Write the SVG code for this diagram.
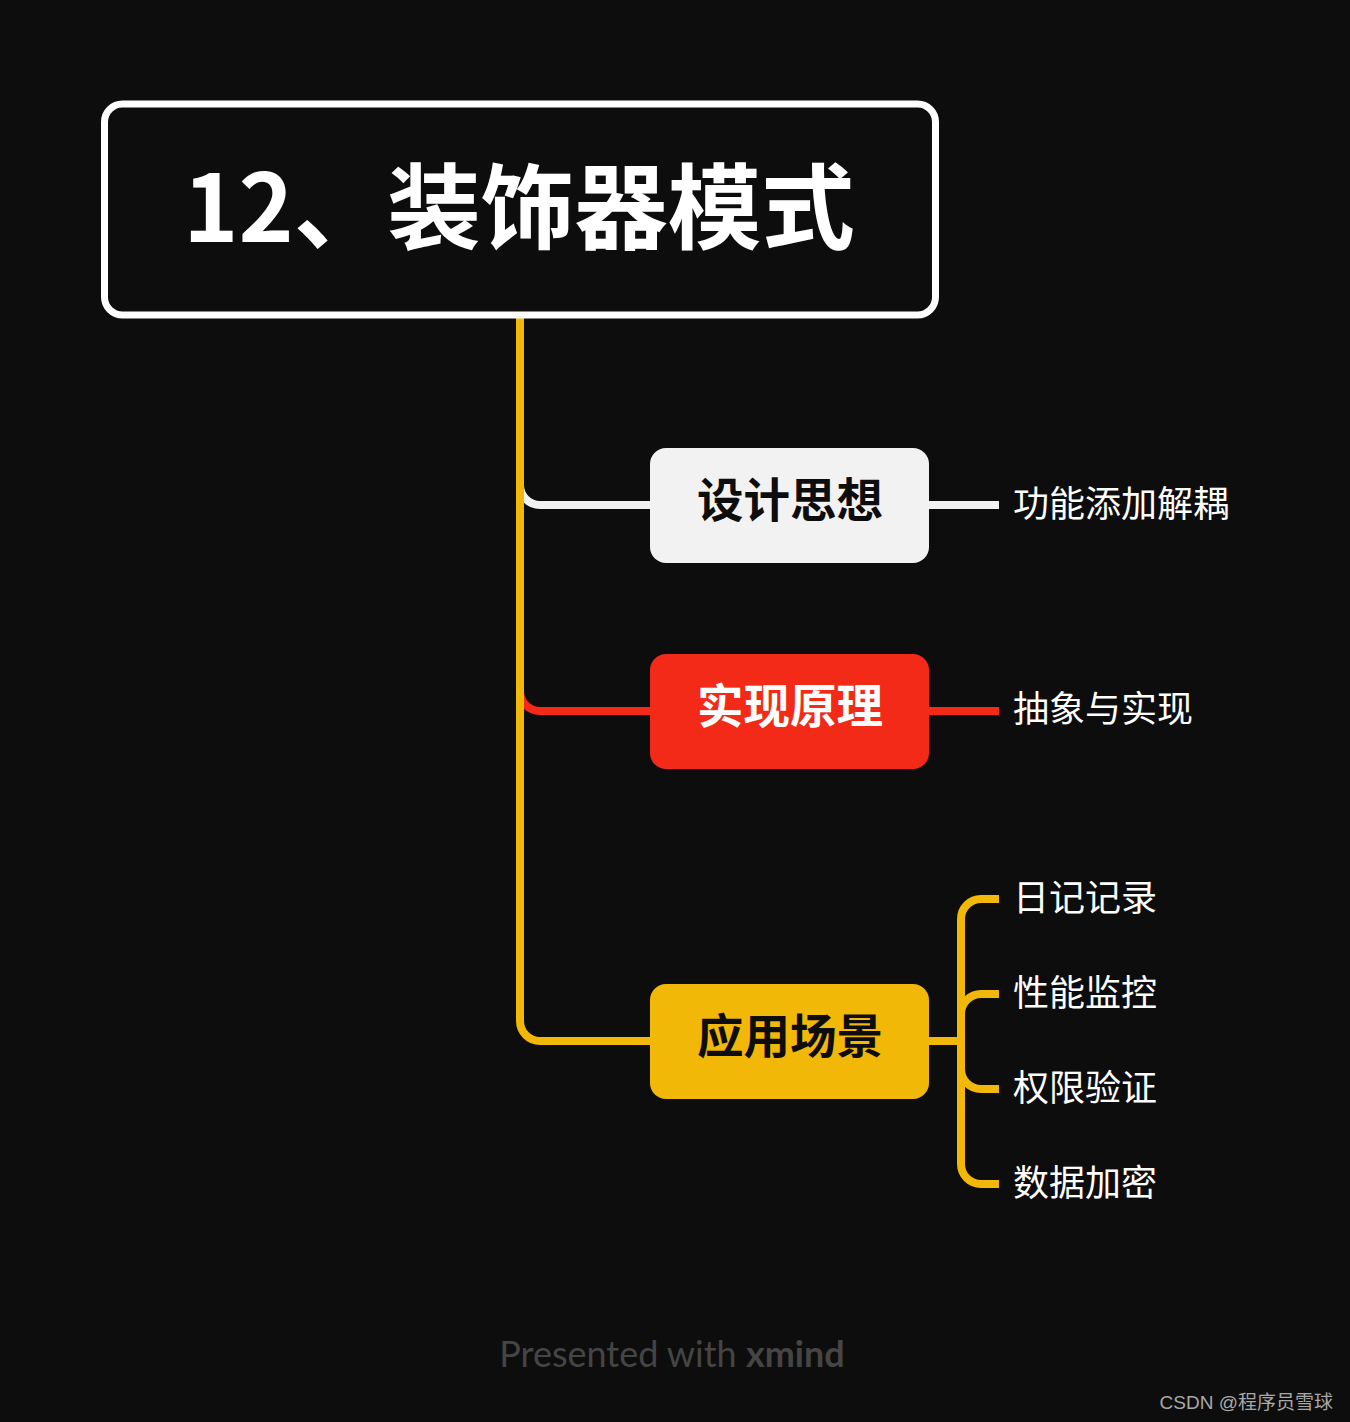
<svg xmlns="http://www.w3.org/2000/svg" width="1350" height="1422" viewBox="0 0 1350 1422">
<style>
.cjk{font-family:"Noto Sans CJK SC","Noto Sans",sans-serif}
.node{font-weight:bold;font-size:46.5px;text-anchor:middle}
.leaf{font-size:36px;fill:#ffffff}
.ln{fill:none;stroke-width:8}
</style>
<rect width="1350" height="1422" fill="#0d0d0d"/>
<g id="connectors">
<path class="ln" stroke="#f2f2f2" d="M520 485 A20 20 0 0 0 540 505 L652 505"/>
<path class="ln" stroke="#f22a17" d="M520 691 A20 20 0 0 0 540 711 L652 711"/>
<path class="ln" stroke="#f2b807" d="M520 318 L520 1021 A20 20 0 0 0 540 1041 L652 1041"/>
<path class="ln" stroke="#f2f2f2" d="M927 505 L999 505"/>
<path class="ln" stroke="#f22a17" d="M927 711 L999 711"/>
<path class="ln" stroke="#f2b807" d="M927 1041 L961 1041"/>
<path class="ln" stroke="#f2b807" d="M999 899 L981 899 A20 20 0 0 0 961 919 L961 1164 A20 20 0 0 0 981 1184 L999 1184"/>
<path class="ln" stroke="#f2b807" d="M961 1014 A20 20 0 0 1 981 994 L999 994"/>
<path class="ln" stroke="#f2b807" d="M961 1069 A20 20 0 0 0 981 1089 L999 1089"/>
</g>
<g id="root">
<rect x="104.5" y="104" width="831" height="211" rx="18" fill="#0d0d0d" stroke="#ffffff" stroke-width="7"/>
<text class="cjk" x="519" y="242" font-size="93.5" font-weight="bold" fill="#ffffff" text-anchor="middle">12、装饰器模式</text>
</g>
<g id="n-design">
<rect x="650" y="448" width="279" height="115" rx="16" fill="#f2f2f2"/>
<text class="cjk node" x="790" y="517" fill="#0d0d0d">设计思想</text>
</g>
<g id="n-impl">
<rect x="650" y="654" width="279" height="115" rx="16" fill="#f22a17"/>
<text class="cjk node" x="790" y="723" fill="#ffffff">实现原理</text>
</g>
<g id="n-use">
<rect x="650" y="984" width="279" height="115" rx="16" fill="#f2b807"/>
<text class="cjk node" x="790" y="1053" fill="#0d0d0d">应用场景</text>
</g>
<g id="l1"><text class="cjk leaf" x="1013" y="517">功能添加解耦</text></g>
<g id="l2"><text class="cjk leaf" x="1013" y="722">抽象与实现</text></g>
<g id="l3"><text class="cjk leaf" x="1013" y="911">日记记录</text></g>
<g id="l4"><text class="cjk leaf" x="1013" y="1006">性能监控</text></g>
<g id="l5"><text class="cjk leaf" x="1013" y="1101">权限验证</text></g>
<g id="l6"><text class="cjk leaf" x="1013" y="1196">数据加密</text></g>
<text x="672" y="1367" font-family="Lato,'Open Sans',sans-serif" font-size="36" fill="#454545" text-anchor="middle">Presented with <tspan font-weight="bold">xmind</tspan></text>
<text x="1333" y="1409" class="cjk" font-size="19" fill="#a8a8a8" text-anchor="end"><tspan font-family="'Liberation Sans',sans-serif">CSDN @</tspan>程序员雪球</text>
</svg>
